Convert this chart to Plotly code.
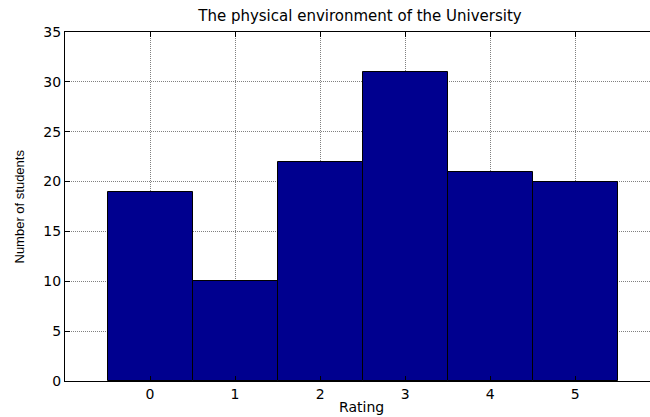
import plotly.graph_objects as go

ratings = [0, 1, 2, 3, 4, 5]
students = [19, 10, 22, 31, 21, 20]
y_ticks = [0, 5, 10, 15, 20, 25, 30, 35]

W, H = 650, 417
L, T, B = 65, 32, 381
PW, PH = W - L, B - T

wide = "DejaVu Sans, Verdana, sans-serif"
narrow = "Liberation Sans, Arial, sans-serif"

fig = go.Figure(go.Bar(
    x=ratings, y=students, width=1,
    marker=dict(color="#00008F", line=dict(color="black", width=1)),
))

fig.update_layout(
    width=W, height=H,
    margin=dict(l=L, r=0, t=T, b=H - B, autoexpand=False),
    plot_bgcolor="white", paper_bgcolor="white",
    showlegend=False,
    font=dict(family=wide, size=14, color="black"),
    title=dict(text="The physical environment of the University",
               x=360 / W, xref="container", xanchor="center",
               y=1 - 16 / H, yref="container", yanchor="middle",
               font=dict(family=wide, size=15, color="black")),
    bargap=0,
)
fig.update_xaxes(
    range=[-1, 5.88], tickvals=ratings, ticks="inside", ticklen=5, tickcolor="black",
    showline=True, linecolor="black", linewidth=1, mirror="ticks",
    showgrid=True, gridcolor="#808080", griddash="1px,1px", gridwidth=1,
    zeroline=False, automargin=False,
    tickfont=dict(family=wide, size=14),
)
fig.update_yaxes(
    range=[0, 35], tickvals=y_ticks, ticks="inside", ticklen=5, tickcolor="black",
    showline=True, linecolor="black", linewidth=1, mirror=False,
    showgrid=True, gridcolor="#808080", griddash="1px,1px", gridwidth=1,
    zeroline=False, automargin=False,
    tickfont=dict(family=wide, size=14),
)

fig.add_annotation(text="Rating", x=(361 - L) / PW, y=(B - 407) / PH,
                   xref="paper", yref="paper",
                   showarrow=False, xanchor="center", yanchor="middle",
                   font=dict(family=wide, size=14, color="black"))
fig.add_annotation(text="Number of students", x=(19 - L) / PW, y=0.5,
                   xref="paper", yref="paper", textangle=-90,
                   showarrow=False, xanchor="center", yanchor="middle",
                   font=dict(family=narrow, size=13, color="black"))

fig.write_html("out.html", config={"displayModeBar": False},
               post_script="document.body.style.margin='0';document.body.style.overflow='hidden';")
